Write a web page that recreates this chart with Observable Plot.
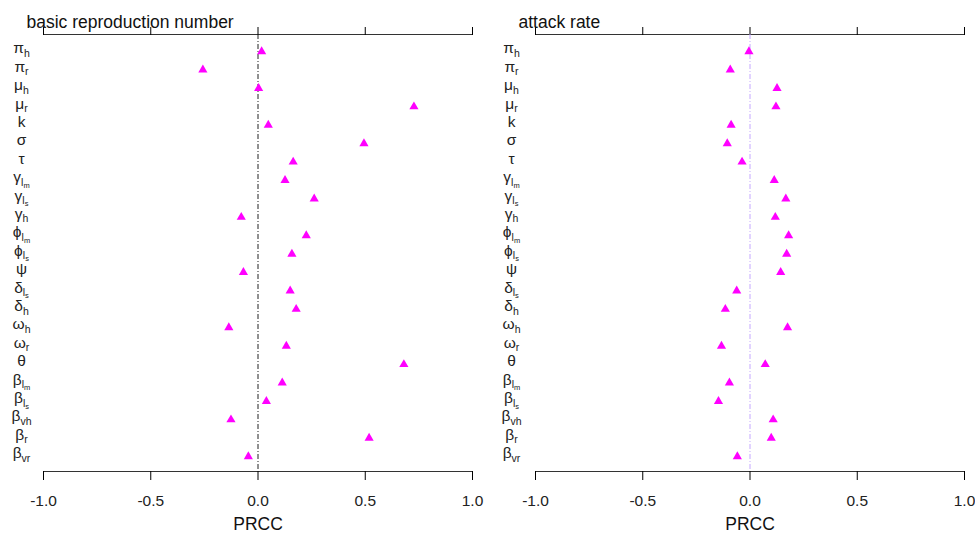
<!DOCTYPE html>
<html><head><meta charset="utf-8">
<script src="https://cdn.jsdelivr.net/npm/d3@7"></script>
<script src="https://cdn.jsdelivr.net/npm/@observablehq/plot@0.6"></script>
<style>
body{margin:0;background:#fff;font-family:"Liberation Sans",Arial,sans-serif}
#wrap{display:flex;width:975px;height:536px;overflow:hidden}
#wrap svg{display:block}
</style></head>
<body><div id="wrap"></div>
<script>
// parameter labels ("_" = next subscript level)
const params = ["π_h","π_r","μ_h","μ_r","k","σ","τ","γ_l_m","γ_l_s","γ_h","ϕ_l_m","ϕ_l_s","ψ","δ_l_s","δ_h","ω_h","ω_r","θ","β_l_m","β_l_s","β_vh","β_r","β_vr"];
// PRCC, basic reproduction number
const r0Values = [0.017,-0.257,0.003,0.727,0.048,0.494,0.164,0.126,0.262,-0.078,0.225,0.158,-0.068,0.150,0.178,-0.136,0.132,0.680,0.113,0.039,-0.126,0.518,-0.045];
// PRCC, attack rate
const attackValues = [-0.005,-0.092,0.126,0.121,-0.088,-0.106,-0.037,0.113,0.167,0.118,0.180,0.171,0.143,-0.062,-0.115,0.175,-0.133,0.071,-0.096,-0.147,0.108,0.099,-0.059];
const xTicks = [-1,-0.5,0,0.5,1];
const titles = ["basic reproduction number","attack rate"];
const axisLabel = "PRCC";

const NS = "http://www.w3.org/2000/svg";
function richLabels(svg){
  svg.querySelectorAll('g[aria-label="y-axis tick label"] text').forEach(t=>{
    const parts = t.textContent.split("_");
    t.textContent = "";
    const sizes = [15.5, 10.5, 7.5];
    const shifts = [0, 3.5, 2];
    parts.forEach((p,i)=>{
      const ts = document.createElementNS(NS,"tspan");
      ts.textContent = p;
      ts.setAttribute("font-size", sizes[i]);
      if (i>0) ts.setAttribute("dy", shifts[i]);
      t.appendChild(ts);
    });
  });
}

function panel(values, title, o){
  const data = params.map((p,i)=>({p, v: values[i]}));
  const svg = Plot.plot({
    width: o.width, height: 536,
    marginLeft: o.ml, marginRight: o.mr, marginTop: 34, marginBottom: 65,
    style: {fontFamily: '"Liberation Sans", Arial, sans-serif', fontSize: "15px", background: "#fff", color: "#000"},
    x: {domain: [-1,1]},
    y: {type: "point", domain: params, range: [50, 455], padding: 0, round: false},
    marks: [
      Plot.frame({anchor: "top", stroke: "#333"}),
      Plot.frame({anchor: "bottom", stroke: "#333"}),
      Plot.axisX({anchor: "top", ticks: xTicks, tickSize: 8, tickFormat: () => "", label: null, stroke: "#000"}),
      Plot.axisX({anchor: "bottom", ticks: xTicks, tickSize: 9, tickPadding: 14, tickFormat: d => d.toFixed(1), label: null, fontSize: 15.5, stroke: "#000", fill: "#222"}),
      Plot.axisY({tickSize: 0, tickPadding: o.ml - 21, textAnchor: "middle", label: null, fill: "#222", dy: -2}),
      Plot.ruleX([0], {stroke: o.zero, strokeDasharray: "5,2,1,2", strokeWidth: 1}),
      Plot.dot(data, {x: "v", y: "p", symbol: "triangle", r: 3.4, fill: "#ff00ff", stroke: "none", dy: 1}),
      Plot.text([title], {frameAnchor: "top-left", textAnchor: "start", lineAnchor: "middle", dx: -17, dy: -12, fontSize: 17.5, fill: "#111"}),
      Plot.text([axisLabel], {frameAnchor: "bottom", lineAnchor: "middle", dy: 53, fontSize: 17.5, fill: "#111"})
    ]
  });
  richLabels(svg);
  return svg;
}

const wrap = document.getElementById("wrap");
wrap.appendChild(panel(r0Values, titles[0], {width: 490, ml: 43, mr: 18, zero: "#222"}));
wrap.appendChild(panel(attackValues, titles[1], {width: 485, ml: 45, mr: 11, zero: "#c4a6ff"}));
</script>
</body></html>
